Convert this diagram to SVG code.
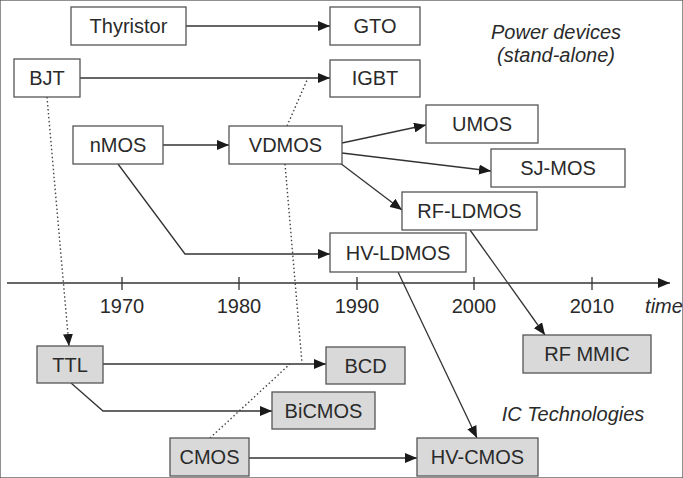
<svg xmlns="http://www.w3.org/2000/svg" width="683" height="478" viewBox="0 0 683 478">
  <defs>
    <marker id="arr" viewBox="0 0 12 10" refX="12" refY="5" markerWidth="12" markerHeight="10" markerUnits="userSpaceOnUse" orient="auto">
      <path d="M0,0 L12,5 L0,10 Z" fill="#1a1a1a"/>
    </marker>
  </defs>
  <style>
    rect { stroke: #555; stroke-width: 1.3; }
    .dev rect { fill: #fff; }
    .ic rect { fill: #d9d9d9; }
    text { font-family: "Liberation Sans", Arial, sans-serif; font-size: 20px; fill: #2a2a2a; text-anchor: middle; }
    .it { font-style: italic; }
    .ln { fill: none; stroke: #333; stroke-width: 1.3; }
    .dot { fill: none; stroke: #444; stroke-width: 1.4; stroke-dasharray: 1.5 2.5; }
  </style>
  <rect x="0" y="0" width="683" height="478" fill="#fff" stroke="none"/>

  <!-- time axis -->
  <g id="axis">
    <line class="ln" x1="7" y1="283" x2="670" y2="283" marker-end="url(#arr)"/>
    <path class="ln" d="M122,277V290 M239,277V290 M357,277V290 M474,277V290 M592,277V290"/>
    <text x="122" y="313">1970</text>
    <text x="239" y="313">1980</text>
    <text x="357" y="313">1990</text>
    <text x="474" y="313">2000</text>
    <text x="592" y="313">2010</text>
    <text class="it" x="664" y="313">time</text>
  </g>

  <!-- connectors -->
  <g id="connectors">
    <line class="ln" x1="186" y1="26" x2="330" y2="26" marker-end="url(#arr)"/>
    <line class="ln" x1="80" y1="78" x2="330" y2="78" marker-end="url(#arr)"/>
    <line class="ln" x1="163" y1="145" x2="229" y2="145" marker-end="url(#arr)"/>
    <line class="ln" x1="342" y1="143" x2="426" y2="125" marker-end="url(#arr)"/>
    <line class="ln" x1="342" y1="153" x2="491" y2="171" marker-end="url(#arr)"/>
    <line class="ln" x1="340" y1="163" x2="402" y2="210" marker-end="url(#arr)"/>
    <polyline class="ln" points="118,164 185,254 330,254" marker-end="url(#arr)"/>
    <line class="ln" x1="470" y1="230" x2="545" y2="335" marker-end="url(#arr)"/>
    <line class="ln" x1="398" y1="272" x2="477" y2="438" marker-end="url(#arr)"/>
    <line class="ln" x1="103" y1="364" x2="326" y2="364" marker-end="url(#arr)"/>
    <polyline class="ln" points="71,383 103,411 272,411" marker-end="url(#arr)"/>
    <line class="ln" x1="249" y1="458" x2="417" y2="458" marker-end="url(#arr)"/>
    <line class="dot" x1="47" y1="97" x2="69" y2="346" marker-end="url(#arr)"/>
    <line class="dot" x1="287" y1="126" x2="308" y2="78"/>
    <line class="dot" x1="285" y1="164" x2="302" y2="363"/>
    <line class="dot" x1="210" y1="438" x2="290" y2="364"/>
  </g>

  <!-- power devices -->
  <g id="thyristor" class="dev"><rect x="71" y="7" width="115" height="38"/><text x="128.5" y="33">Thyristor</text></g>
  <g id="gto" class="dev"><rect x="330" y="7" width="90" height="38"/><text x="375" y="33">GTO</text></g>
  <g id="bjt" class="dev"><rect x="14" y="59" width="66" height="38"/><text x="47" y="85">BJT</text></g>
  <g id="igbt" class="dev"><rect x="330" y="60" width="90" height="37"/><text x="375" y="85">IGBT</text></g>
  <g id="nmos" class="dev"><rect x="73" y="126" width="90" height="38"/><text x="118" y="152">nMOS</text></g>
  <g id="vdmos" class="dev"><rect x="229" y="126" width="113" height="38"/><text x="285.5" y="152">VDMOS</text></g>
  <g id="umos" class="dev"><rect x="426" y="105" width="112" height="38"/><text x="482" y="131">UMOS</text></g>
  <g id="sjmos" class="dev"><rect x="491" y="149" width="134" height="38"/><text x="558" y="175">SJ-MOS</text></g>
  <g id="rfldmos" class="dev"><rect x="402" y="192" width="135" height="38"/><text x="469.5" y="218">RF-LDMOS</text></g>
  <g id="hvldmos" class="dev"><rect x="330" y="233" width="136" height="39"/><text x="398" y="260">HV-LDMOS</text></g>

  <!-- IC technologies -->
  <g id="ttl" class="ic"><rect x="37" y="346" width="66" height="37"/><text x="70" y="372">TTL</text></g>
  <g id="bcd" class="ic"><rect x="326" y="347" width="79" height="37"/><text x="365.5" y="373">BCD</text></g>
  <g id="bicmos" class="ic"><rect x="272" y="392" width="103" height="37"/><text x="323.5" y="418">BiCMOS</text></g>
  <g id="cmos" class="ic"><rect x="170" y="438" width="79" height="38"/><text x="209.5" y="464">CMOS</text></g>
  <g id="hvcmos" class="ic"><rect x="417" y="438" width="121" height="38"/><text x="477.5" y="464">HV-CMOS</text></g>
  <g id="rfmmic" class="ic"><rect x="523" y="335" width="128" height="38"/><text x="587" y="361">RF MMIC</text></g>

  <!-- group captions -->
  <g id="captions">
    <text class="it" x="556" y="39">Power devices</text>
    <text class="it" x="556" y="62">(stand-alone)</text>
    <text class="it" x="573" y="421">IC Technologies</text>
  </g>
</svg>
